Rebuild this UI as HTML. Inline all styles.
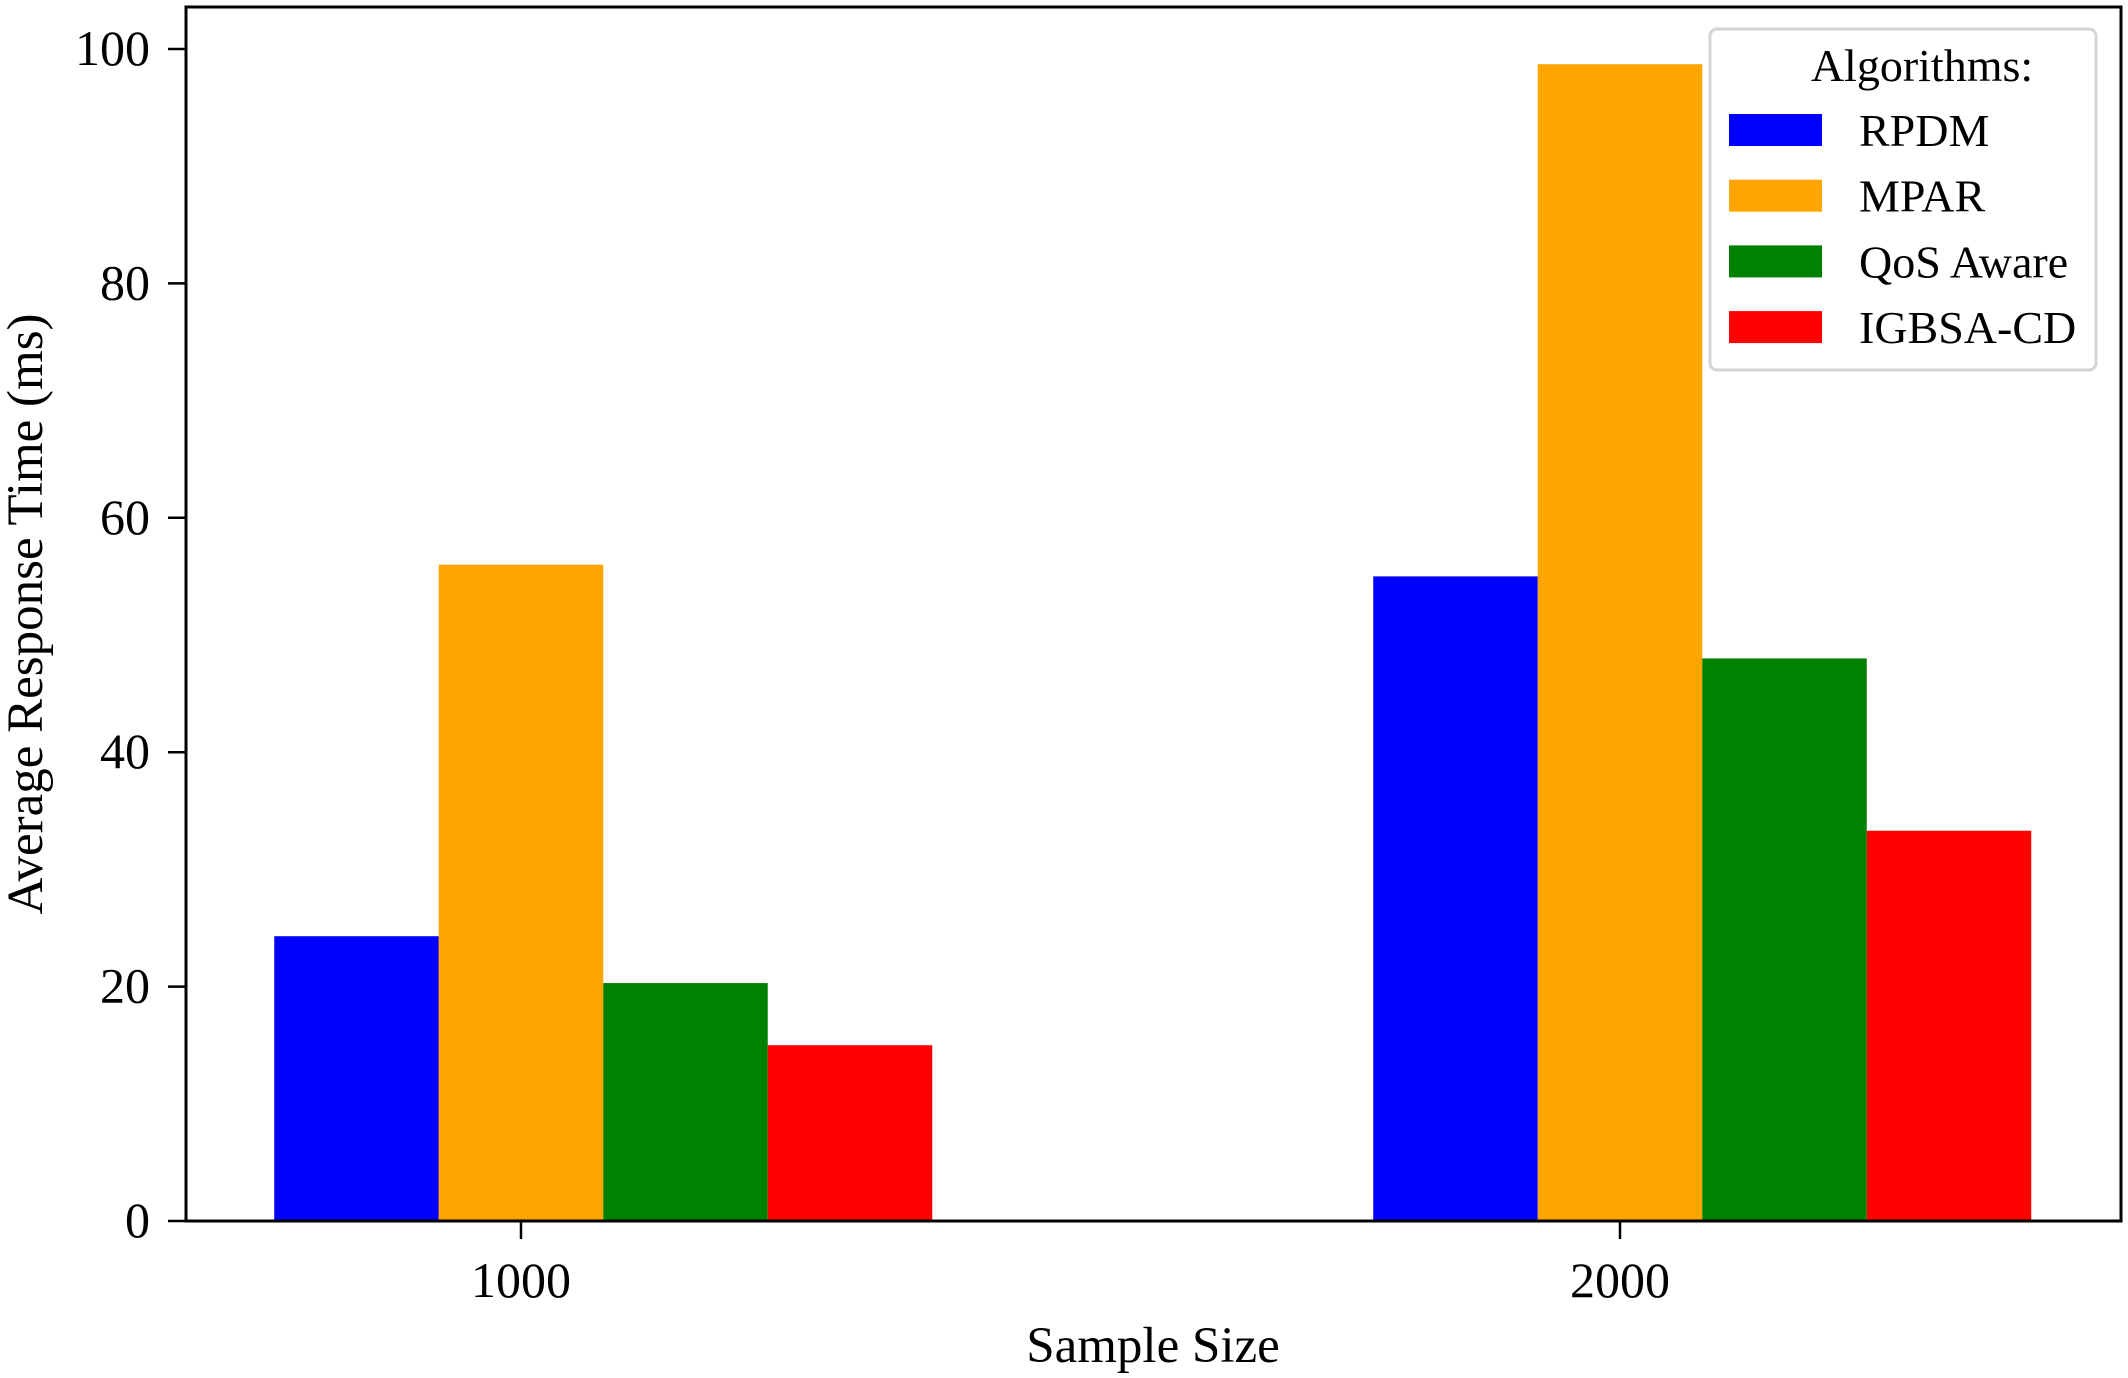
<!DOCTYPE html>
<html><head><meta charset="utf-8"><style>
html,body{margin:0;padding:0;background:#fff;}
svg{display:block;font-family:"Liberation Serif",serif;}
</style></head><body>
<svg id="chart" width="2128" height="1378" viewBox="0 0 2128 1378" xmlns="http://www.w3.org/2000/svg">
<rect width="2128" height="1378" fill="#fff"/>
<g id="bars"></g>
<g id="axes"></g>
<text transform="translate(42,614) rotate(-90)" text-anchor="middle" font-size="51">Average Response Time (ms)</text>
<text x="1153" y="1362" text-anchor="middle" font-size="51">Sample Size</text>
<g id="legend"></g>
</svg>
<script>
const categories = ["1000", "2000"];
const seriesNames = ["RPDM", "MPAR", "QoS Aware", "IGBSA-CD"];
const seriesColors = ["#0000ff", "#ffa500", "#008000", "#ff0000"];
const rpdm = [24.3, 55];
const mpar = [56, 98.7];
const qos = [20.3, 48];
const igbsa = [15, 33.3];
const yTicks = [0, 20, 40, 60, 80, 100];

const NS = "http://www.w3.org/2000/svg";
const L = 186, R = 2121, T = 7, B = 1221;
const groupCenters = [521, 1620];
const barW = 164.5;
function y(v){ return B - v * (B - 49) / 100; }
function mk(tag, attrs, parent){ const e = document.createElementNS(NS, tag); for (const k in attrs) e.setAttribute(k, attrs[k]); parent.appendChild(e); return e; }

const series = [rpdm, mpar, qos, igbsa];
const barsG = document.getElementById('bars');
series.forEach((vals, si) => {
  vals.forEach((v, ci) => {
    const x0 = groupCenters[ci] + (si - 1.5) * barW;
    const r = mk('rect', {x: x0, y: y(v), width: barW, height: B - y(v), fill: seriesColors[si]}, barsG);
    
    
  });
});

const ax = document.getElementById('axes');
const frame = mk('rect', {x: L, y: T, width: R - L, height: B - T, fill: 'none', stroke: '#000', 'stroke-width': 3}, ax);


yTicks.forEach(t => {
  const ln = mk('line', {x1: L - 18, x2: L, y1: y(t), y2: y(t), stroke: '#000', 'stroke-width': 2.5}, ax);
  
  
  const tx = mk('text', {x: 150, y: y(t) + 16, 'text-anchor': 'end', 'font-size': 50}, ax);
  
  
  tx.textContent = t;
});
categories.forEach((c, i) => {
  const ln = mk('line', {x1: groupCenters[i], x2: groupCenters[i], y1: B, y2: B + 18, stroke: '#000', 'stroke-width': 2.5}, ax);
  
  
  const tx = mk('text', {x: groupCenters[i], y: B + 76, 'text-anchor': 'middle', 'font-size': 50}, ax);
  
  
  tx.textContent = c;
});

const lg = document.getElementById('legend');
const box = mk('rect', {x: 1710, y: 29, width: 386, height: 341, rx: 7, fill: '#fff', stroke: '#d4d4d4', 'stroke-width': 3}, lg);


const title = mk('text', {x: 1922, y: 81, 'text-anchor': 'middle', 'font-size': 46}, lg);


title.textContent = 'Algorithms:';
seriesNames.forEach((n, i) => {
  const cy = 130 + i * 65.7;
  const p = mk('rect', {x: 1729, y: cy - 16, width: 93, height: 32, fill: seriesColors[i]}, lg);
  
  
  const t = mk('text', {x: 1859, y: cy + 16, 'font-size': 46}, lg);
  
  
  t.textContent = n;
});
</script>
</body></html>
